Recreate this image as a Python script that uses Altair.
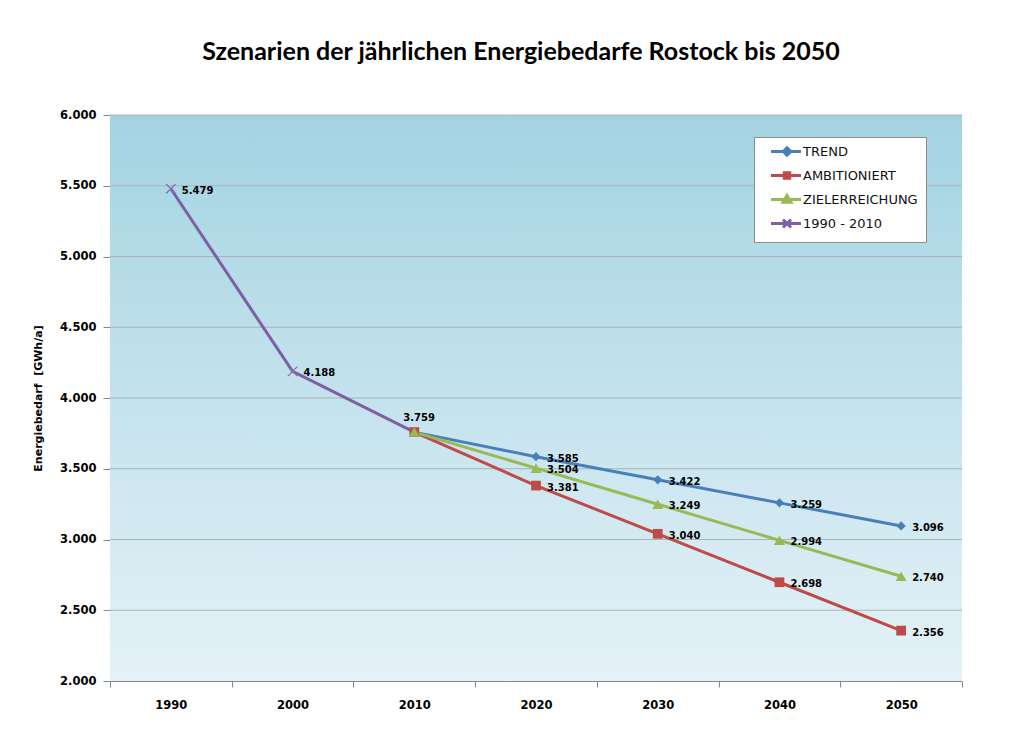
import altair as alt
import pandas as pd

# ---------------- data ----------------
years = ["1990", "2000", "2010", "2020", "2030", "2040", "2050"]
hist_years = ["1990", "2000", "2010"]
hist_values = [5479, 4188, 3759]
scen_years = ["2010", "2020", "2030", "2040", "2050"]
trend = [3759, 3585, 3422, 3259, 3096]
ambitioniert = [3759, 3381, 3040, 2698, 2356]
zielerreichung = [3759, 3504, 3249, 2994, 2740]
series_names = ["TREND", "AMBITIONIERT", "ZIELERREICHUNG", "1990 - 2010"]
series_colors = ["#4A7EBB", "#BE4B48", "#98B954", "#7D60A0"]
marker_shapes = ["diamond", "square", "triangle-up"]
marker_sizes = [85, 95, 120]
y_ticks = [2000, 2500, 3000, 3500, 4000, 4500, 5000, 5500, 6000]

title_text = "Szenarien der jährlichen Energiebedarfe Rostock bis 2050"
y_title = "Energiebedarf \u00a0[GWh/a]"

# ---------------- tables ----------------
rows = []
for name, vals in zip(series_names[:3], [trend, ambitioniert, zielerreichung]):
    for yr, v in zip(scen_years, vals):
        rows.append({"series": name, "year": yr, "value": v})
for yr, v in zip(hist_years, hist_values):
    rows.append({"series": series_names[3], "year": yr, "value": v})
df = pd.DataFrame(rows)

scen_df = df[df["series"] != series_names[3]]
hist_df = df[df["series"] == series_names[3]]

right_labels = pd.concat([
    hist_df[hist_df["year"] != "2010"],
    scen_df[scen_df["year"] != "2010"],
])
top_labels = hist_df[hist_df["year"] == "2010"]

W, H = 852, 566

x_enc = alt.X(
    "year:N",
    scale=alt.Scale(type="band", domain=years, paddingInner=0, paddingOuter=0),
    axis=alt.Axis(
        title=None, tickBand="extent", labelAngle=0, labelFont="DejaVu Sans",
        labelFontSize=11.5, labelFontWeight="bold", labelColor="#000000",
        labelPadding=12, tickSize=6, tickColor="#868686", domainColor="#868686",
        grid=False,
    ),
)
y_scale = alt.Scale(domain=[2000, 6000], nice=False, zero=False)
y_enc = alt.Y(
    "value:Q", scale=y_scale,
    axis=alt.Axis(
        title=y_title, values=y_ticks, format=",d", grid=False,
        labelFont="DejaVu Sans", labelFontSize=11.5, labelFontWeight="bold",
        labelColor="#000000", labelPadding=7, tickSize=7, tickColor="#868686",
        domainColor="#868686", titleFont="DejaVu Sans", titleFontSize=11,
        titleFontWeight="bold", titleColor="#000000", titlePadding=16,
    ),
)
color_scale = alt.Scale(domain=series_names, range=series_colors)

leg = alt.Legend(
    title=None, orient="none", legendX=644, legendY=22, fillColor="#FFFFFF",
    strokeColor="#8C8C8C", padding=8, symbolSize=100, symbolStrokeWidth=3,
    labelFont="DejaVu Sans", labelFontSize=13, labelColor="#111111",
    labelOffset=28, rowPadding=4,
)

bg = alt.Chart(pd.DataFrame({"a": [0]})).mark_rect(
    color=alt.Gradient(
        gradient="linear",
        stops=[alt.GradientStop(color="#A3D3E2", offset=0),
               alt.GradientStop(color="#E5F2F8", offset=1)],
        x1=0, x2=0, y1=0, y2=1,
    )
).encode(x=alt.value(0), x2=alt.value(W), y=alt.value(0), y2=alt.value(H))

grid = alt.Chart(pd.DataFrame({"value": y_ticks[1:]})).mark_rule(
    color="#A9B3B7", strokeWidth=1
).encode(y=alt.Y("value:Q", scale=y_scale))

# legend symbols: line segment with the series marker (unit = 5 px)
legend_paths = [
    "M0.5,0H6.5M3.7,-0.75L4.45,0L3.7,0.75L2.95,0ZM3.7,-0.3L4,0L3.7,0.3L3.4,0Z",
    "M0.5,0H6.5M3.15,-0.55H4.25V0.55H3.15ZM3.5,-0.2H3.9V0.2H3.5Z",
    "M0.5,0H6.5M3.7,-0.8L4.5,0.55H2.9ZM3.7,-0.2L3.95,0.25H3.45Z",
    "M0.5,0H6.5M2.9,-0.8L4.5,0.8M2.9,0.8L4.5,-0.8",
]
legend_layer = alt.Chart(df).mark_point(
    filled=False, size=0, strokeWidth=3, opacity=1
).encode(
    x=x_enc, y=y_enc,
    color=alt.Color("series:N", scale=color_scale, legend=leg),
    shape=alt.Shape("series:N", scale=alt.Scale(domain=series_names,
                    range=legend_paths), legend=leg),
)

lines = alt.Chart(df).mark_line(strokeWidth=3).encode(
    x=x_enc, y=y_enc,
    color=alt.Color("series:N", scale=color_scale, legend=leg),
)

hist_marks = alt.Chart(hist_df).mark_point(
    shape="M-1,-1L1,1M-1,1L1,-1", filled=False, size=90, strokeWidth=1.3,
    opacity=1, color="#8A6FB0",
).encode(x=x_enc, y=y_enc)

scen_layers = []
for name, col, shp, sz in zip(series_names[:3], series_colors[:3],
                              marker_shapes, marker_sizes):
    scen_layers.append(
        alt.Chart(scen_df[scen_df["series"] == name]).mark_point(
            filled=True, opacity=1, color=col, shape=shp, size=sz,
        ).encode(x=x_enc, y=y_enc)
    )

text_right = alt.Chart(right_labels).mark_text(
    align="left", baseline="middle", dx=11, dy=2, font="DejaVu Sans",
    fontSize=10, fontWeight="bold", color="#000000",
).encode(x=x_enc, y=y_enc, text=alt.Text("value:Q", format=",d"))

text_top = alt.Chart(top_labels).mark_text(
    align="left", baseline="middle", dx=-11, dy=-14, font="DejaVu Sans",
    fontSize=10, fontWeight="bold", color="#000000",
).encode(x=x_enc, y=y_enc, text=alt.Text("value:Q", format=",d"))

chart = alt.layer(
    bg, grid, legend_layer, lines, hist_marks, *scen_layers, text_right, text_top
).properties(
    width=W, height=H,
    title=alt.TitleParams(
        text=title_text, font="Lato", fontSize=25, fontWeight="bold",
        color="#000000", anchor="middle", frame="group", dx=-15,
        baseline="alphabetic", offset=24,
    ),
    autosize=alt.AutoSizeParams(type="none"),
    padding={"left": 102, "top": 107, "right": 39, "bottom": 55},
).configure(
    locale={"number": {"decimal": ",", "thousands": ".", "grouping": [3],
                       "currency": ["", " €"]}},
).configure_view(stroke=None)

chart.save("out.html", embed_options={"renderer": "svg", "actions": False})
